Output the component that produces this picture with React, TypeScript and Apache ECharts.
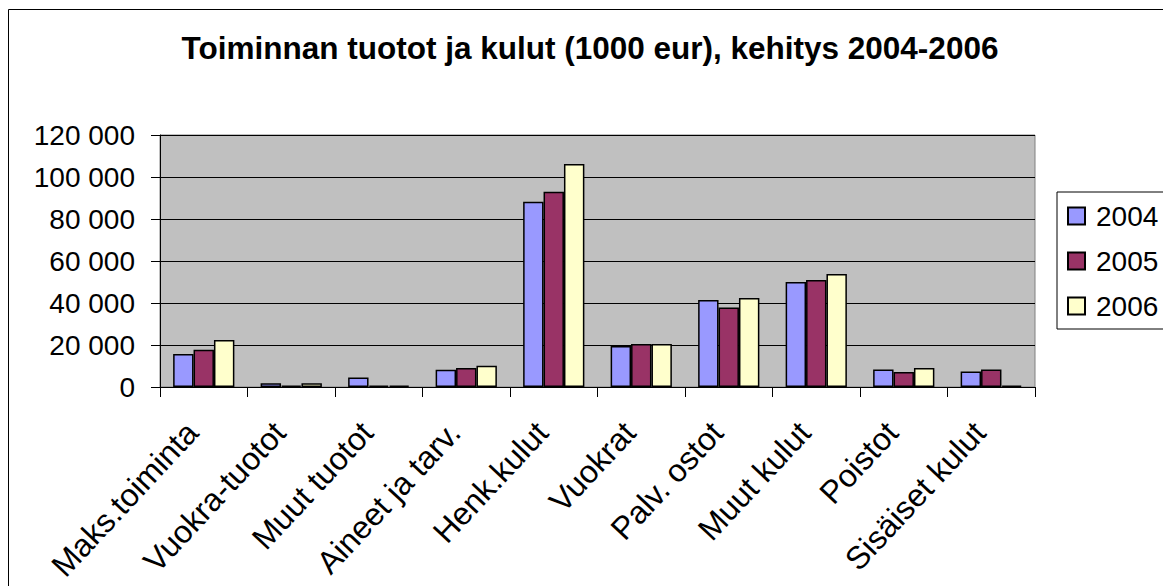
import React, { useEffect, useRef } from "react";
import * as echarts from "echarts";

const categories = [
  "Maks.toiminta",
  "Vuokra-tuotot",
  "Muut tuotot",
  "Aineet ja tarv.",
  "Henk.kulut",
  "Vuokrat",
  "Palv. ostot",
  "Muut kulut",
  "Poistot",
  "Sisäiset kulut",
];
const seriesNames = ["2004", "2005", "2006"];
const values2004 = [15700, 1800, 4500, 8200, 88200, 19500, 41400, 50000, 8300, 7400];
const values2005 = [17700, 600, 700, 9000, 93000, 20500, 37900, 50900, 7100, 8300];
const values2006 = [22400, 1800, 600, 10100, 106200, 20500, 42400, 53800, 9100, 600];
const seriesColors = ["#9999FF", "#993366", "#FFFFCC"];
const titleText = "Toiminnan tuotot ja kulut (1000 eur), kehitys 2004-2006";
const yMin = 0;
const yMax = 120000;
const yStep = 20000;

const FONT = "'Liberation Sans', Arial, Helvetica, sans-serif";

const fmt = (v: number) => String(v).replace(/\B(?=(\d{3})+(?!\d))/g, " ");

export default function App() {
  const ref = useRef<HTMLDivElement>(null);
  useEffect(() => {
    const chart = echarts.init(ref.current!, undefined, { renderer: "svg" });
    const allValues = [values2004, values2005, values2006];
    chart.setOption({
      animation: false,
      backgroundColor: "#ffffff",
      textStyle: { fontFamily: FONT },
      graphic: [
        {
          type: "rect",
          silent: true,
          shape: { x: 8.5, y: 9.5, width: 2000, height: 2000 },
          style: { fill: "none", stroke: "#000", lineWidth: 1 },
        },
        {
          type: "text",
          x: 590,
          y: 48,
          style: {
            text: titleText,
            font: `bold 31.5px ${FONT}`,
            fill: "#000",
            textAlign: "center",
            textVerticalAlign: "middle",
          },
        },
      ],
      grid: {
        left: 160,
        top: 135,
        width: 875,
        height: 252,
        show: true,
        backgroundColor: "#C0C0C0",
        borderColor: "#808080",
        borderWidth: 1,
      },
      legend: {
        orient: "vertical",
        left: 1057,
        top: 192,
        padding: [10, 10, 9, 10],
        itemGap: 17,
        itemWidth: 17,
        itemHeight: 17,
        borderColor: "#000",
        borderWidth: 1,
        backgroundColor: "#fff",
        icon: "rect",
        textStyle: { fontSize: 28, color: "#000", lineHeight: 28, padding: [0, 0, 0, 6], fontFamily: FONT },
        data: seriesNames,
      },
      xAxis: {
        type: "category",
        data: categories,
        axisLine: { lineStyle: { color: "#000", width: 1 } },
        axisTick: { show: true, length: 10, interval: 0, lineStyle: { color: "#000" } },
        axisLabel: {
          interval: 0,
          rotate: 47,
          fontSize: 32,
          color: "#000",
          margin: 51,
          verticalAlign: "bottom",
          fontFamily: FONT,
        },
        splitLine: { show: false },
      },
      yAxis: {
        type: "value",
        min: yMin,
        max: yMax,
        interval: yStep,
        axisLine: { show: true, lineStyle: { color: "#000" } },
        axisTick: { show: true, length: 9, lineStyle: { color: "#000" } },
        axisLabel: { fontSize: 28, color: "#000", margin: 25, formatter: fmt, fontFamily: FONT },
        splitLine: { show: true, lineStyle: { color: "#000", width: 1 } },
      },
      series: seriesNames.map((name, i) => ({
        name,
        type: "bar",
        data: allValues[i],
        barGap: "0%",
        barCategoryGap: "30%",
        itemStyle: { color: seriesColors[i], borderColor: "#000", borderWidth: 1.5 },
      })),
    });
    return () => chart.dispose();
  }, []);
  return (
    <div
      ref={ref}
      style={{ position: "fixed", left: 0, top: 0, width: 1163, height: 586 }}
    />
  );
}
